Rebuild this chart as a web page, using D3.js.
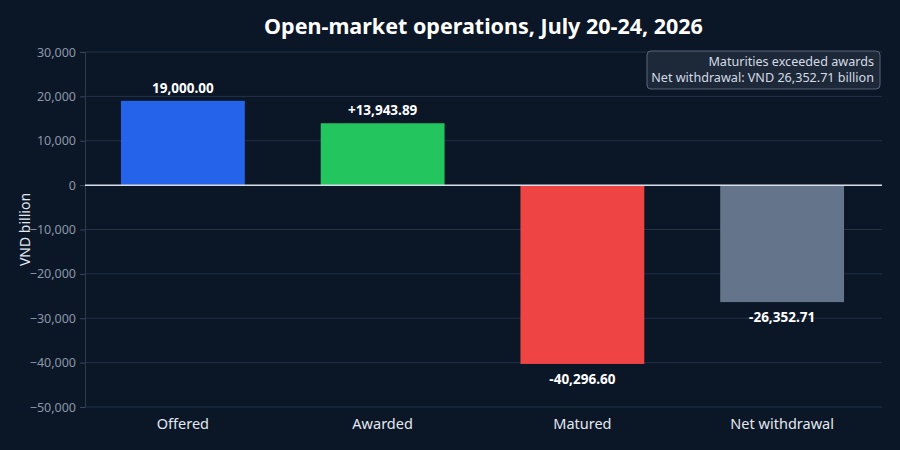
<!DOCTYPE html>
<html><head><meta charset="utf-8">
<script src="https://cdn.jsdelivr.net/npm/d3@7"></script>
<style>html,body{margin:0;padding:0;background:#0b1627;}svg{display:block;}</style>
</head><body>
<svg id="chart" width="900" height="450"></svg>
<script>
const categories = ["Offered", "Awarded", "Matured", "Net withdrawal"];
const values = [19000.00, 13943.89, -40296.60, -26352.71];
const labels = ["19,000.00", "+13,943.89", "-40,296.60", "-26,352.71"];
const colors = ["#2563eb", "#22c55e", "#ef4444", "#64748b"];
const yTicks = [30000, 20000, 10000, 0, -10000, -20000, -30000, -40000, -50000];
const titleText = "Open-market operations, July 20-24, 2026";
const noteLines = ["Maturities exceeded awards", "Net withdrawal: VND 26,352.71 billion"];

const W = 900, H = 450;
const m = {left: 85, right: 18, top: 52, bottom: 43};
const svg = d3.select("#chart");
svg.append("rect").attr("width", W).attr("height", H).attr("fill", "#0b1627");
const font = "'Noto Sans', 'Open Sans', sans-serif";

const x = d3.scaleBand().domain(categories).range([m.left - 2, W - m.right]).paddingInner(0.38).paddingOuter(0.19);
const y = d3.scaleLinear().domain([-50000, 30000]).range([H - m.bottom, m.top]);

// grid
svg.append("g").selectAll("line").data(yTicks).join("line")
  .attr("x1", m.left).attr("x2", W - m.right)
  .attr("y1", d => y(d)).attr("y2", d => y(d))
  .attr("stroke", "#243247").attr("stroke-width", 1);

// y axis
const yAxis = svg.append("g").attr("transform", `translate(${m.left},0)`)
  .call(d3.axisLeft(y).tickValues(yTicks).tickSize(5).tickPadding(4).tickFormat(d3.format(",")));
yAxis.select(".domain").attr("stroke", "#2c3a4f");
yAxis.selectAll(".tick line").attr("stroke", "#3a475b");
yAxis.selectAll("text").attr("fill", "#8b97a8").attr("font-size", 12.5).attr("font-family", font);

// bars
svg.append("g").selectAll("rect").data(values).join("rect")
  .attr("x", (d, i) => x(categories[i]))
  .attr("width", x.bandwidth())
  .attr("y", d => y(Math.max(0, d)))
  .attr("height", d => Math.abs(y(d) - y(0)))
  .attr("fill", (d, i) => colors[i]);

// zero line
svg.append("line").attr("x1", m.left).attr("x2", W - m.right)
  .attr("y1", y(0)).attr("y2", y(0)).attr("stroke", "#d6dde8").attr("stroke-width", 1.5);

// value labels
svg.append("g").selectAll("text").data(values).join("text")
  .attr("x", (d, i) => x(categories[i]) + x.bandwidth() / 2)
  .attr("y", d => d >= 0 ? y(d) - 8 : y(d) + 20)
  .attr("text-anchor", "middle").attr("fill", "#ffffff").attr("font-weight", "bold")
  .attr("font-size", 13.5).attr("font-family", font)
  .text((d, i) => labels[i]);

// category labels
svg.append("g").selectAll("text").data(categories).join("text")
  .attr("x", d => x(d) + x.bandwidth() / 2).attr("y", H - m.bottom + 22)
  .attr("text-anchor", "middle").attr("fill", "#e2e8f0").attr("font-size", 14.5).attr("font-family", font)
  .text(d => d);

// y label
svg.append("text").attr("transform", `translate(30,${(m.top + H - m.bottom) / 2}) rotate(-90)`)
  .attr("text-anchor", "middle").attr("fill", "#e2e8f0").attr("font-size", 14).attr("font-family", font)
  .text("VND billion");

// title
svg.append("text").attr("x", (m.left + W - m.right) / 2).attr("y", 33.5)
  .attr("text-anchor", "middle").attr("fill", "#ffffff").attr("font-weight", "bold")
  .attr("font-size", 21.5).attr("font-family", font).text(titleText);

// annotation box
const bx = 647, by = 51, bw = 233, bh = 38;
svg.append("rect").attr("x", bx).attr("y", by).attr("width", bw).attr("height", bh).attr("rx", 4)
  .attr("fill", "#1f2b3c").attr("fill-opacity", 0.9).attr("stroke", "#5b6779").attr("stroke-width", 1);
svg.append("g").selectAll("text").data(noteLines).join("text")
  .attr("x", bx + bw - 6).attr("y", (d, i) => by + 14.5 + i * 16)
  .attr("text-anchor", "end").attr("fill", "#d5dbe4").attr("font-size", 12.6).attr("font-family", font)
  .text(d => d);
</script>
</body></html>
